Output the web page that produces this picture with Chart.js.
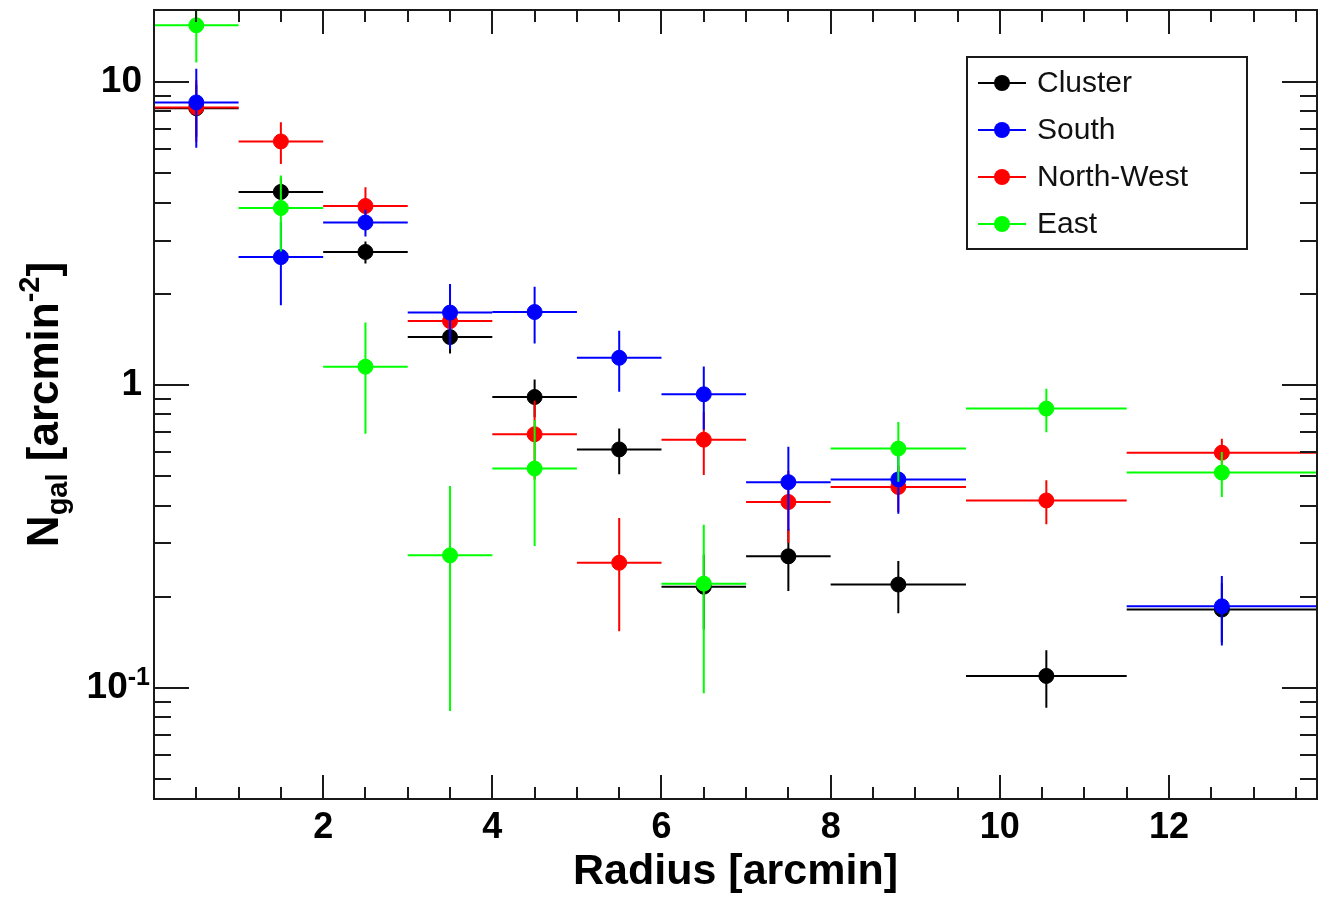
<!DOCTYPE html>
<html>
<head>
<meta charset="utf-8">
<script src="https://cdn.jsdelivr.net/npm/chart.js@4.4.0/dist/chart.umd.min.js"></script>
<style>
  html, body { margin: 0; padding: 0; background: #fff; }
</style>
</head>
<body>
<canvas id="profile" width="1328" height="899"></canvas>
<script>
// radial bins [arcmin]
const binLow  = [0, 1, 2, 3, 4, 5, 6, 7, 8, 9.6, 11.5];
const binHigh = [1, 2, 3, 4, 5, 6, 7, 8, 9.6, 11.5, 13.75];
const radius  = [0.5, 1.5, 2.5, 3.5, 4.5, 5.5, 6.5, 7.5, 8.8, 10.55, 12.625];

// galaxy surface density [arcmin^-2] and errors, null = empty bin
const cluster    = [8.2, 4.34, 2.75, 1.44, 0.913, 0.613, 0.216, 0.272, 0.2195, 0.1096, 0.1815];
const clusterErr = [1.6, 0.5, 0.23, 0.17, 0.13, 0.105, 0.06, 0.063, 0.043, 0.0235, 0.04];
const south      = [8.57, 2.645, 3.44, 1.734, 1.742, 1.23, 0.932, 0.478, 0.488, null, 0.186];
const southErr   = [2.5, 0.81, 0.35, 0.42, 0.37, 0.28, 0.22, 0.147, 0.112, null, 0.048];
const northWest  = [8.25, 6.37, 3.90, 1.626, 0.688, 0.259, 0.66, 0.411, 0.461, 0.416, 0.598];
const northWestErr = [1.9, 1.0, 0.6, 0.25, 0.2, 0.105, 0.155, 0.11, 0.08, 0.069, 0.067];
const east       = [15.4, 3.84, 1.15, 0.274, 0.53, null, 0.221, null, 0.617, 0.836, 0.514];
const eastErr    = [3.8, 1.08, 0.46, 0.19, 0.236, null, 0.125, null, 0.138, 0.137, 0.087];

const xLabelTicks = [2, 4, 6, 8, 10, 12];
const yMajorTicks = [0.1, 1, 10];
const yMinorTicks = [0.05, 0.06, 0.07, 0.08, 0.09, 0.2, 0.3, 0.4, 0.5, 0.6, 0.7, 0.8, 0.9,
                     2, 3, 4, 5, 6, 7, 8, 9];

const FONT = '"Liberation Sans", Arial, Helvetica, sans-serif';

function makeSeries(label, values, errors, color, order) {
  return {
    label: label,
    data: radius.map((r, i) => ({ x: r, y: values[i] })),
    errors: errors,
    borderColor: color,
    backgroundColor: color,
    pointRadius: 7.5,
    pointBorderWidth: 1,
    pointHoverRadius: 7.5,
    showLine: false,
    order: order
  };
}

const series = [
  makeSeries('Cluster', cluster, clusterErr, '#000000', 4),
  makeSeries('South', south, southErr, '#0000ff', 2),
  makeSeries('North-West', northWest, northWestErr, '#ff0000', 3),
  makeSeries('East', east, eastErr, '#00ff00', 1)
];

// error crosses under each dataset's markers
const errorBars = {
  id: 'errorBars',
  beforeDatasetDraw(chart, args) {
    const ds = chart.data.datasets[args.index];
    const { ctx, chartArea: a, scales: { x, y } } = chart;
    ctx.save();
    ctx.beginPath();
    ctx.rect(a.left, a.top, a.right - a.left, a.bottom - a.top);
    ctx.clip();
    ctx.strokeStyle = ds.borderColor;
    ctx.lineWidth = 2;
    ds.data.forEach((p, i) => {
      if (p.y == null) return;
      const px = x.getPixelForValue(p.x);
      const py = y.getPixelForValue(p.y);
      const e = ds.errors[i];
      ctx.beginPath();
      ctx.moveTo(x.getPixelForValue(binLow[i]), py);
      ctx.lineTo(x.getPixelForValue(binHigh[i]), py);
      ctx.moveTo(px, y.getPixelForValue(p.y + e));
      ctx.lineTo(px, y.getPixelForValue(Math.max(p.y - e, 1e-3)));
      ctx.stroke();
    });
    ctx.restore();
  }
};

// frame with inward ticks, log labels, y title and legend box
const frame = {
  id: 'frame',
  afterDraw(chart) {
    const { ctx, chartArea: a, scales: { x, y } } = chart;
    ctx.save();
    ctx.strokeStyle = '#1a1a1a';
    ctx.lineWidth = 2;
    ctx.strokeRect(a.left, a.top, a.right - a.left, a.bottom - a.top);

    ctx.beginPath();
    for (let v = 0.5; v < x.max; v += 0.5) {
      const px = Math.round(x.getPixelForValue(v));
      const len = xLabelTicks.includes(v) ? 24 : 12;
      ctx.moveTo(px, a.bottom); ctx.lineTo(px, a.bottom - len);
      ctx.moveTo(px, a.top); ctx.lineTo(px, a.top + len);
    }
    yMajorTicks.concat(yMinorTicks).forEach(v => {
      const py = Math.round(y.getPixelForValue(v));
      const len = yMajorTicks.includes(v) ? 35 : 17;
      ctx.moveTo(a.left, py); ctx.lineTo(a.left + len, py);
      ctx.moveTo(a.right, py); ctx.lineTo(a.right - len, py);
    });
    ctx.stroke();

    // y tick labels
    ctx.fillStyle = '#000';
    ctx.textBaseline = 'middle';
    ctx.textAlign = 'right';
    const big = 'bold 37px ' + FONT;
    const sup = 'bold 25px ' + FONT;
    ctx.font = big;
    ctx.fillText('10', 142, y.getPixelForValue(10));
    ctx.fillText('1', 142, y.getPixelForValue(1));
    const p01 = y.getPixelForValue(0.1);
    ctx.font = sup;
    const supW = ctx.measureText('-1').width;
    ctx.textAlign = 'left';
    ctx.fillText('-1', 150 - supW, p01 - 10);
    ctx.textAlign = 'right';
    ctx.font = big;
    ctx.fillText('10', 150 - supW, p01);

    // y axis title: N_gal [arcmin^-2]
    ctx.translate(58, (a.top + a.bottom) / 2);
    ctx.rotate(-Math.PI / 2);
    ctx.textAlign = 'left';
    ctx.textBaseline = 'alphabetic';
    const main = 'bold 44px ' + FONT;
    const small = 'bold 29px ' + FONT;
    const parts = [
      { t: 'N', f: main, dy: 0 },
      { t: 'gal', f: small, dy: 9 },
      { t: ' [arcmin', f: main, dy: 0 },
      { t: '-2', f: small, dy: -19 },
      { t: ']', f: main, dy: 0 }
    ];
    let total = 0;
    parts.forEach(p => { ctx.font = p.f; p.w = ctx.measureText(p.t).width; total += p.w; });
    let cx = -total / 2;
    parts.forEach(p => { ctx.font = p.f; ctx.fillText(p.t, cx, p.dy); cx += p.w; });
    ctx.restore();

    // legend
    ctx.save();
    ctx.strokeStyle = '#1a1a1a';
    ctx.lineWidth = 2;
    ctx.fillStyle = '#fff';
    ctx.fillRect(967, 57, 280, 192);
    ctx.strokeRect(967, 57, 280, 192);
    const rows = [83, 130, 177, 224];
    chart.data.datasets.forEach((ds, i) => {
      const ry = rows[i];
      ctx.strokeStyle = ds.borderColor;
      ctx.lineWidth = 2;
      ctx.beginPath();
      ctx.moveTo(978, ry); ctx.lineTo(1026, ry);
      ctx.stroke();
      ctx.fillStyle = ds.backgroundColor;
      ctx.beginPath();
      ctx.arc(1002, ry, 8, 0, Math.PI * 2);
      ctx.fill();
      ctx.fillStyle = '#111';
      ctx.font = '30px ' + FONT;
      ctx.textAlign = 'left';
      ctx.textBaseline = 'middle';
      ctx.fillText(ds.label, 1037, ry + 1);
    });
    ctx.restore();
  }
};

new Chart(document.getElementById('profile'), {
  type: 'scatter',
  data: { datasets: series },
  options: {
    responsive: false,
    animation: false,
    layout: { padding: { left: 154, right: 11, top: 10, bottom: 0 } },
    plugins: { legend: { display: false }, tooltip: { enabled: false } },
    scales: {
      x: {
        type: 'linear',
        min: 0,
        max: 13.75,
        grid: { display: false, drawTicks: false },
        border: { display: false },
        afterBuildTicks: s => { s.ticks = xLabelTicks.map(v => ({ value: v })); },
        afterFit: s => { s.height = 100; },
        ticks: {
          autoSkip: false,
          maxRotation: 0,
          padding: 7,
          color: '#000',
          font: { family: FONT, size: 36, weight: 'bold' }
        },
        title: {
          display: true,
          text: 'Radius [arcmin]',
          color: '#000',
          font: { family: FONT, size: 43, weight: 'bold' },
          padding: { top: 0, bottom: 1 }
        }
      },
      y: {
        type: 'logarithmic',
        min: 0.043,
        max: 17.3,
        display: false
      }
    }
  },
  plugins: [errorBars, frame]
});
</script>
</body>
</html>
